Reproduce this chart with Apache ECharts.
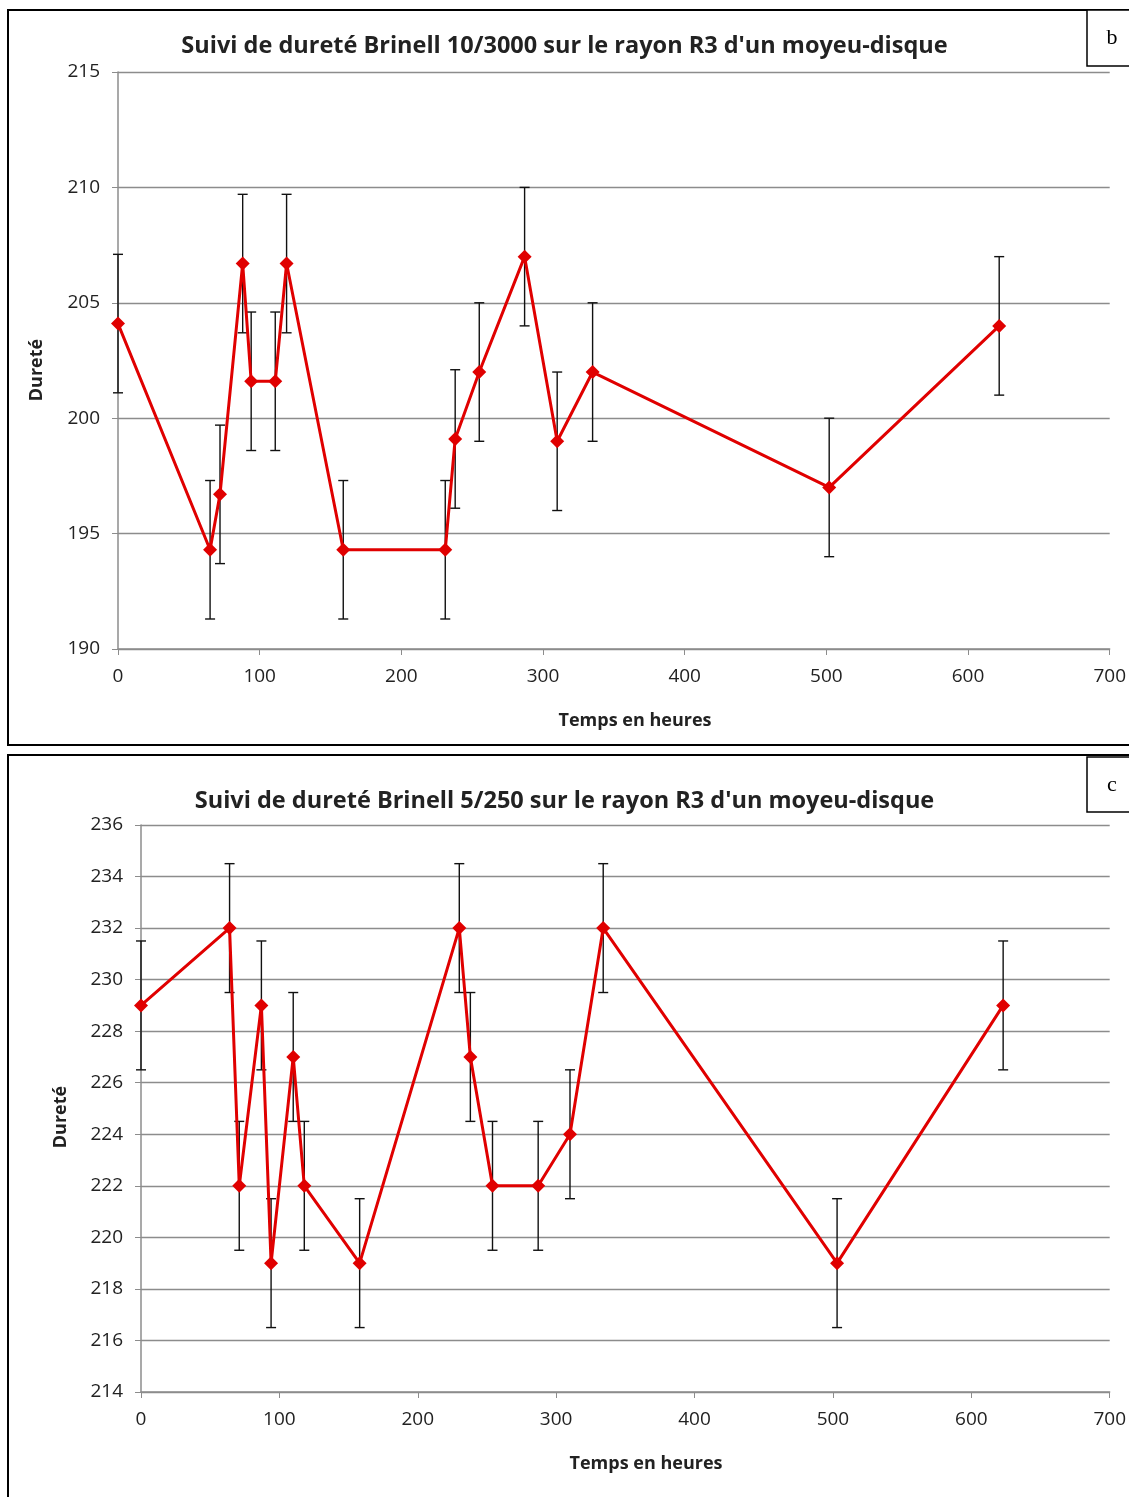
<!DOCTYPE html>
<html>
<head>
<meta charset="utf-8">
<script src="https://cdn.jsdelivr.net/npm/echarts@6/dist/echarts.min.js"></script>
<style>
html,body{margin:0;padding:0;background:#fff;}
#main{width:1129px;height:1497px;}
</style>
</head>
<body>
<div id="main"></div>
<script>
// Panel b : Brinell 10/3000
const hoursB = [0, 65, 72, 88, 94, 111, 119, 159, 231, 238, 255, 287, 310, 335, 502, 622];
const hardB  = [204.1, 194.3, 196.7, 206.7, 201.6, 201.6, 206.7, 194.3, 194.3, 199.1, 202, 207, 199, 202, 197, 204];
const errB   = [3, 3, 3, 3, 3, 3, 3, 3, 3, 3, 3, 3, 3, 3, 3, 3];
// Panel c : Brinell 5/250
const hoursC = [0, 64, 71, 87, 94, 110, 118, 158, 230, 238, 254, 287, 310, 334, 503, 623];
const hardC  = [229, 232, 222, 229, 219, 227, 222, 219, 232, 227, 222, 222, 224, 232, 219, 229];
const errC   = [2.5, 2.5, 2.5, 2.5, 2.5, 2.5, 2.5, 2.5, 2.5, 2.5, 2.5, 2.5, 2.5, 2.5, 2.5, 2.5];

const titleB = "Suivi de dureté Brinell 10/3000 sur le rayon R3 d'un moyeu-disque";
const titleC = "Suivi de dureté Brinell 5/250 sur le rayon R3 d'un moyeu-disque";
const xName = "Temps en heures";
const yName = "Dureté";

const FONT = "'Open Sans', 'Liberation Sans', sans-serif";
const RED = '#e00000';
const GRIDC = '#8c8c8c';

function pts(xs, ys){ return xs.map((x,i)=>[x, ys[i]]); }
function errPts(xs, ys, es){ return xs.map((x,i)=>[x, ys[i], es[i]]); }

function errRender(params, api){
  const x = api.value(0), y = api.value(1), e = api.value(2);
  const t = api.coord([x, y + e]);
  const b = api.coord([x, y - e]);
  const w = 5;
  const st = {stroke:'#111', lineWidth:1.4};
  return {type:'group', children:[
    {type:'line', shape:{x1:t[0], y1:t[1], x2:b[0], y2:b[1]}, style:st},
    {type:'line', shape:{x1:t[0]-w, y1:t[1], x2:t[0]+w, y2:t[1]}, style:st},
    {type:'line', shape:{x1:b[0]-w, y1:b[1], x2:b[0]+w, y2:b[1]}, style:st}
  ]};
}

function xAxis(gi){
  return {
    type:'value', gridIndex:gi, min:0, max:700, interval:100,
    axisLine:{show:true, lineStyle:{color:GRIDC, width:1.5}},
    axisTick:{show:true, length:6, lineStyle:{color:GRIDC}},
    axisLabel:{color:'#222', fontSize:19, fontFamily:FONT, margin:18},
    splitLine:{show:false}
  };
}
function yAxis(gi, mn, mx, iv){
  return {
    type:'value', gridIndex:gi, min:mn, max:mx, interval:iv,
    axisLine:{show:true, lineStyle:{color:GRIDC, width:1.5}},
    axisTick:{show:true, length:6, lineStyle:{color:GRIDC}},
    axisLabel:{color:'#222', fontSize:19, fontFamily:FONT, margin:18},
    splitLine:{show:true, lineStyle:{color:GRIDC, width:1.3}}
  };
}

const chart = echarts.init(document.getElementById('main'), null, {renderer:'canvas'});
chart.setOption({
  backgroundColor:'#fff',
  animation:false,
  title:[
    {text:titleB, left:'center', top:29, textStyle:{fontFamily:FONT, fontSize:23.5, fontWeight:'bold', color:'#222'}},
    {text:titleC, left:'center', top:784, textStyle:{fontFamily:FONT, fontSize:23.5, fontWeight:'bold', color:'#222'}}
  ],
  grid:[
    {left:118, right:18, top:72, height:577},
    {left:141, right:16, top:825, height:567}
  ],
  xAxis:[xAxis(0), xAxis(1)],
  yAxis:[yAxis(0,190,215,5), yAxis(1,214,236,2)],
  graphic:[
    {type:'rect', shape:{x:8, y:10, width:1140, height:735}, style:{fill:'none', stroke:'#000', lineWidth:2}, z:100},
    {type:'rect', shape:{x:8, y:755, width:1140, height:760}, style:{fill:'none', stroke:'#000', lineWidth:2}, z:100},
    {type:'rect', shape:{x:1087, y:10, width:60, height:56}, style:{fill:'#fff', stroke:'#000', lineWidth:1.5}, z:100},
    {type:'rect', shape:{x:1087, y:757, width:60, height:55}, style:{fill:'#fff', stroke:'#000', lineWidth:1.5}, z:100},
    {type:'text', x:1112, y:38, style:{text:'b', font:"22px 'Liberation Serif', serif", fill:'#000', textAlign:'center', textVerticalAlign:'middle'}, z:101},
    {type:'text', x:1112, y:785, style:{text:'c', font:"22px 'Liberation Serif', serif", fill:'#000', textAlign:'center', textVerticalAlign:'middle'}, z:101},
    {type:'text', x:635, y:721, style:{text:xName, font:"bold 18px "+FONT, fill:'#222', textAlign:'center', textVerticalAlign:'middle'}},
    {type:'text', x:646, y:1464, style:{text:xName, font:"bold 18px "+FONT, fill:'#222', textAlign:'center', textVerticalAlign:'middle'}},
    {type:'text', x:37, y:370, rotation:Math.PI/2, style:{text:yName, font:"bold 18px "+FONT, fill:'#222', textAlign:'center', textVerticalAlign:'middle'}},
    {type:'text', x:61, y:1117, rotation:Math.PI/2, style:{text:yName, font:"bold 18px "+FONT, fill:'#222', textAlign:'center', textVerticalAlign:'middle'}}
  ],
  series:[
    {type:'custom', xAxisIndex:0, yAxisIndex:0, renderItem:errRender, data:errPts(hoursB, hardB, errB), encode:{x:0, y:1}, z:2},
    {type:'line', xAxisIndex:0, yAxisIndex:0, data:pts(hoursB, hardB), symbol:'diamond', symbolSize:14,
     lineStyle:{color:RED, width:3}, itemStyle:{color:RED}, z:3},
    {type:'custom', xAxisIndex:1, yAxisIndex:1, renderItem:errRender, data:errPts(hoursC, hardC, errC), encode:{x:0, y:1}, z:2},
    {type:'line', xAxisIndex:1, yAxisIndex:1, data:pts(hoursC, hardC), symbol:'diamond', symbolSize:14,
     lineStyle:{color:RED, width:3}, itemStyle:{color:RED}, z:3}
  ]
});
</script>
</body>
</html>
